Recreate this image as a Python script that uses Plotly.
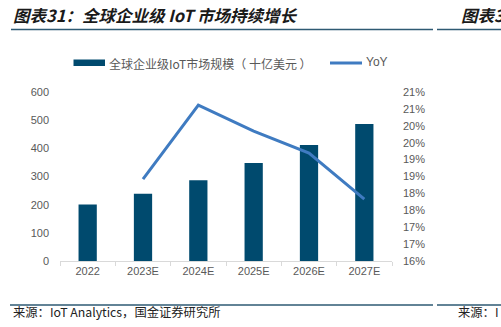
import plotly.graph_objects as go

categories = ["2022", "2023E", "2024E", "2025E", "2026E", "2027E"]
market_size = [201, 239, 287, 348, 412, 486]
yoy_cats = ["2023E", "2024E", "2025E", "2026E", "2027E"]
yoy_pct = [18.42, 20.61, 19.84, 19.19, 17.83]
left_ticks = [0, 100, 200, 300, 400, 500, 600]
right_tickvals = [16, 16.5, 17, 17.5, 18, 18.5, 19, 19.5, 20, 20.5, 21]
right_ticktext = ["16%", "17%", "17%", "18%", "18%", "19%", "19%", "20%", "20%", "21%", "21%"]

BAR = "#004a6e"
LINE = "#3f7bc1"
GRAY = "#595959"
W, H = 501, 327
L, R, T, B = 60, 109, 92, 66
PW, PH = W - L - R, H - T - B

def px(x):
    return (x - L) / PW

def py(y):
    return (H - B - y) / PH

fig = go.Figure()
fig.add_trace(go.Bar(x=categories, y=market_size, marker_color=BAR,
                     marker_line_width=0, name="全球企业级IoT市场规模（十亿美元）"))
fig.add_trace(go.Scatter(x=yoy_cats, y=yoy_pct, mode="lines", yaxis="y2",
                         line=dict(color=LINE, width=3), name="YoY"))

fig.update_layout(
    width=W, height=H, margin=dict(l=L, r=R, t=T, b=B),
    paper_bgcolor="white", plot_bgcolor="white", showlegend=False,
    bargap=0.67,
    font=dict(family="Liberation Sans, Arial", size=11, color=GRAY),
    xaxis=dict(showline=True, linecolor="#d9d9d9", linewidth=1, ticks="outside",
               tickcolor="#d9d9d9", ticklen=4, tickson="boundaries",
               tickfont=dict(size=11, color=GRAY), showgrid=False),
    yaxis=dict(range=[0, 600], tickvals=left_ticks, showgrid=False, zeroline=False,
               showline=False, ticks="", tickfont=dict(size=11, color=GRAY), ticklabelstandoff=10),
    yaxis2=dict(range=[16, 21], overlaying="y", side="right", tickvals=right_tickvals,
                ticktext=right_ticktext, showgrid=False, zeroline=False, showline=False,
                ticks="", tickfont=dict(size=11, color=GRAY), ticklabelstandoff=10),
)

shapes = [
    dict(type="line", xref="paper", yref="paper", x0=px(11), x1=px(433), y0=py(29.5), y1=py(29.5),
         line=dict(color="#2e5a73", width=1.5)),
    dict(type="line", xref="paper", yref="paper", x0=px(437), x1=px(501), y0=py(29.5), y1=py(29.5),
         line=dict(color="#2e5a73", width=1.5)),
    dict(type="line", xref="paper", yref="paper", x0=px(10), x1=px(433), y0=py(305), y1=py(305),
         line=dict(color="#2e5a73", width=1.5)),
    dict(type="line", xref="paper", yref="paper", x0=px(437), x1=px(501), y0=py(305), y1=py(305),
         line=dict(color="#2e5a73", width=1.5)),
    # legend symbols
    dict(type="rect", xref="paper", yref="paper", x0=px(73.5), x1=px(105), y0=py(66), y1=py(59.5),
         fillcolor=BAR, line=dict(width=0)),
    dict(type="line", xref="paper", yref="paper", x0=px(330), x1=px(362), y0=py(63), y1=py(63),
         line=dict(color=LINE, width=3)),
]
fig.update_layout(shapes=shapes)

title_font = dict(family="Noto Sans CJK SC", size=16.5, color="#1a1a1a", weight="bold", style="italic")
src_font = dict(family="Noto Sans CJK SC", size=12.3, color="#222222")
ann = [
    dict(text="图表31：全球企业级 IoT 市场持续增长", x=px(11), y=py(15), xanchor="left", yanchor="middle",
         font=title_font),
    dict(text="图表3", x=px(459), y=py(15), xanchor="left", yanchor="middle", font=title_font),
    dict(text="来源：I", x=px(456), y=py(312), xanchor="left", yanchor="middle", font=src_font),
    dict(text="来源：IoT Analytics，国金证券研究所", x=px(11), y=py(312), xanchor="left", yanchor="middle",
         font=src_font),
    dict(text="全球企业级IoT市场规模（ 十亿美元 ）", x=px(107), y=py(63), xanchor="left", yanchor="middle",
         font=dict(family="Noto Sans CJK SC", size=12, color=GRAY)),
    dict(text="YoY", x=px(364), y=py(62), xanchor="left", yanchor="middle",
         font=dict(family="Liberation Sans, Arial", size=12, color=GRAY)),
]
for a in ann:
    a.update(xref="paper", yref="paper", showarrow=False)
fig.update_layout(annotations=ann)

fig.write_html("out.html")
